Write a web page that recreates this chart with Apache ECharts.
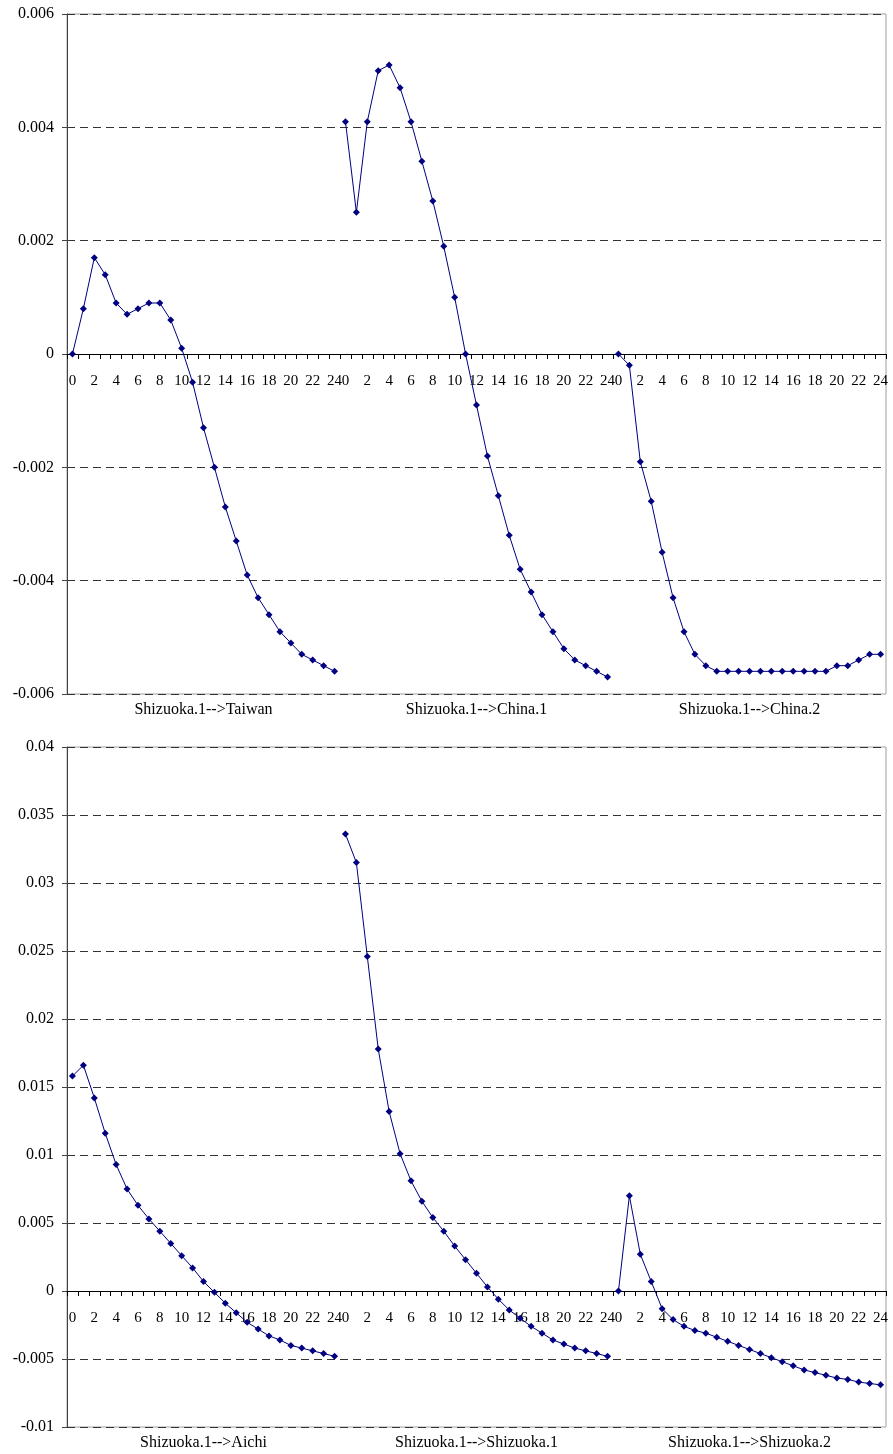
<!DOCTYPE html>
<html>
<head>
<meta charset="utf-8">
<script src="https://cdn.jsdelivr.net/npm/echarts@6/dist/echarts.min.js"></script>
<style>
  html, body { margin: 0; padding: 0; background: #fff; }
  #chart { width: 893px; height: 1454px; }
</style>
</head>
<body>
<div id="chart"></div>
<script>
// ---- data ----
const hourLabels = ['0','1','2','3','4','5','6','7','8','9','10','11','12','13','14','15','16','17','18','19','20','21','22','23','24'];

const topGroups = ['Shizuoka.1-->Taiwan', 'Shizuoka.1-->China.1', 'Shizuoka.1-->China.2'];
const bottomGroups = ['Shizuoka.1-->Aichi', 'Shizuoka.1-->Shizuoka.1', 'Shizuoka.1-->Shizuoka.2'];

const taiwan = [0, 0.0008, 0.0017, 0.0014, 0.0009, 0.0007, 0.0008, 0.0009, 0.0009, 0.0006, 0.0001,
  -0.0005, -0.0013, -0.0020, -0.0027, -0.0033, -0.0039, -0.0043, -0.0046, -0.0049, -0.0051,
  -0.0053, -0.0054, -0.0055, -0.0056];
const china1 = [0.0041, 0.0025, 0.0041, 0.0050, 0.0051, 0.0047, 0.0041, 0.0034, 0.0027, 0.0019, 0.0010,
  0, -0.0009, -0.0018, -0.0025, -0.0032, -0.0038, -0.0042, -0.0046, -0.0049, -0.0052,
  -0.0054, -0.0055, -0.0056, -0.0057];
const china2 = [0, -0.0002, -0.0019, -0.0026, -0.0035, -0.0043, -0.0049, -0.0053, -0.0055, -0.0056, -0.0056,
  -0.0056, -0.0056, -0.0056, -0.0056, -0.0056, -0.0056, -0.0056, -0.0056, -0.0056, -0.0055,
  -0.0055, -0.0054, -0.0053, -0.0053];

const aichi = [0.0158, 0.0166, 0.0142, 0.0116, 0.0093, 0.0075, 0.0063, 0.0053, 0.0044, 0.0035, 0.0026,
  0.0017, 0.0007, -0.0001, -0.0009, -0.0016, -0.0023, -0.0028, -0.0033, -0.0036, -0.0040,
  -0.0042, -0.0044, -0.0046, -0.0048];
const shizuoka1 = [0.0336, 0.0315, 0.0246, 0.0178, 0.0132, 0.0101, 0.0081, 0.0066, 0.0054, 0.0044, 0.0033,
  0.0023, 0.0013, 0.0003, -0.0006, -0.0014, -0.0020, -0.0026, -0.0031, -0.0036, -0.0039,
  -0.0042, -0.0044, -0.0046, -0.0048];
const shizuoka2 = [0, 0.0070, 0.0027, 0.0007, -0.0013, -0.0021, -0.0026, -0.0029, -0.0031, -0.0034, -0.0037,
  -0.0040, -0.0043, -0.0046, -0.0049, -0.0052, -0.0055, -0.0058, -0.0060, -0.0062, -0.0064,
  -0.0065, -0.0067, -0.0068, -0.0069];

const topAxis = { min: -0.006, max: 0.006, interval: 0.002 };
const bottomAxis = { min: -0.01, max: 0.04, interval: 0.005 };

// ---- build ----
const nSeg = 3;
const segLen = hourLabels.length;
const categories = [];
for (let k = 0; k < nSeg; k++) categories.push(...hourLabels);

function placeSegment(values, k) {
  const arr = new Array(categories.length).fill(null);
  values.forEach((v, i) => { arr[k * segLen + i] = v; });
  return arr;
}

const FONT = "'Liberation Serif', 'Times New Roman', serif";
const NAVY = '#000080';
const GRID_H = 680;

function fmt(v) {
  const s = String(parseFloat(Number(v).toFixed(5)));
  return s === '-0' ? '0' : s;
}

const grids = [
  { left: 67, right: 7, top: 14, height: GRID_H, show: true, borderColor: '#a0a0a0', borderWidth: 1 },
  { left: 67, right: 7, top: 747, height: GRID_H, show: true, borderColor: '#a0a0a0', borderWidth: 1 }
];

// place the hour axis on the zero line of its value axis
function zeroOffset(cfg) {
  return -((0 - cfg.min) / (cfg.max - cfg.min)) * GRID_H;
}

function hourAxis(gi, cfg) {
  return {
    type: 'category', gridIndex: gi, data: categories, boundaryGap: true,
    position: 'bottom', offset: zeroOffset(cfg),
    axisLine: { show: true, onZero: false, lineStyle: { color: '#000', width: 1 } },
    axisTick: { show: true, interval: 0, length: 5, lineStyle: { color: '#000' } },
    axisLabel: {
      interval: (idx) => (idx % segLen) % 2 === 0,
      margin: 20, fontFamily: FONT, fontSize: 15, color: '#000'
    },
    splitLine: { show: false }, z: 5
  };
}
function groupAxis(gi, groups) {
  return {
    type: 'category', gridIndex: gi, data: groups, position: 'bottom',
    axisLine: { show: false, onZero: false }, axisTick: { show: false },
    axisLabel: { margin: 8, fontFamily: FONT, fontSize: 16, color: '#000', interval: 0 },
    splitLine: { show: false }
  };
}
function valueAxis(gi, cfg) {
  return {
    type: 'value', gridIndex: gi, min: cfg.min, max: cfg.max, interval: cfg.interval,
    axisLine: { show: true, lineStyle: { color: '#444', width: 1 } },
    axisTick: { show: true, length: 5, lineStyle: { color: '#444' } },
    axisLabel: { formatter: fmt, fontFamily: FONT, fontSize: 16, color: '#000', margin: 13 },
    splitLine: { show: true, lineStyle: { color: '#333', type: [8, 5], width: 1 } }
  };
}

function lineSeries(values, k, xi, yi) {
  return {
    type: 'line', xAxisIndex: xi, yAxisIndex: yi,
    data: placeSegment(values, k),
    symbol: 'diamond', symbolSize: 7, showSymbol: true,
    itemStyle: { color: NAVY },
    lineStyle: { color: NAVY, width: 1 },
    connectNulls: false, animation: false, z: 10
  };
}

const option = {
  animation: false,
  backgroundColor: '#fff',
  grid: grids,
  xAxis: [hourAxis(0, topAxis), groupAxis(0, topGroups), hourAxis(1, bottomAxis), groupAxis(1, bottomGroups)],
  yAxis: [valueAxis(0, topAxis), valueAxis(1, bottomAxis)],
  series: [
    lineSeries(taiwan, 0, 0, 0),
    lineSeries(china1, 1, 0, 0),
    lineSeries(china2, 2, 0, 0),
    lineSeries(aichi, 0, 2, 1),
    lineSeries(shizuoka1, 1, 2, 1),
    lineSeries(shizuoka2, 2, 2, 1)
  ]
};

const chart = echarts.init(document.getElementById('chart'), null, { renderer: 'canvas' });
chart.setOption(option);
</script>
</body>
</html>
